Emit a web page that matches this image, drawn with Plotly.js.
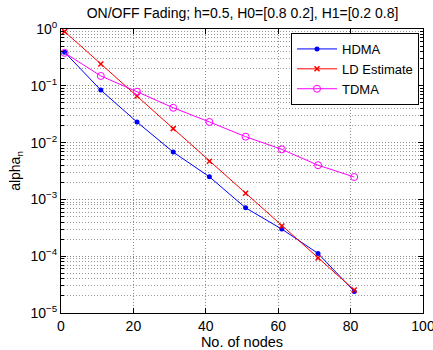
<!DOCTYPE html>
<html>
<head>
<meta charset="utf-8">
<script src="https://cdn.plot.ly/plotly-3.0.1.min.js"></script>
<style>html,body{margin:0;padding:0;background:#fff;}#chart{width:433px;height:350px;}</style>
</head>
<body>
<div id="chart"></div>
<script>
const nodes = [1, 11, 21, 31, 41, 51, 61, 71, 81];
const hdma = [0.39, 0.084, 0.023, 0.0068, 0.0025, 0.00071, 0.00030, 0.000112, 0.000024];
const ldEstimate = [0.9, 0.242, 0.066, 0.0176, 0.0047, 0.00128, 0.00034, 0.000093, 0.0000254];
const tdma = [0.38, 0.149, 0.0787, 0.041, 0.0231, 0.0127, 0.0076, 0.0040, 0.00248];
const yTickVals = [1e-5, 1e-4, 1e-3, 1e-2, 1e-1, 1];
const yTickText = ['10<sup>−5</sup>', '10<sup>−4</sup>', '10<sup>−3</sup>', '10<sup>−2</sup>', '10<sup>−1</sup>', '10<sup>0</sup>'];
const xTickVals = [0, 20, 40, 60, 80, 100];

const font = 'Liberation Sans, Arial, sans-serif';
const traces = [
  {x: nodes, y: hdma, name: 'HDMA', mode: 'lines+markers',
   line: {color: '#0000ff', width: 1}, marker: {color: '#0000ff', symbol: 'circle', size: 5}},
  {x: nodes, y: ldEstimate, name: 'LD Estimate', mode: 'lines+markers',
   line: {color: '#ff0000', width: 1}, marker: {color: '#ff0000', symbol: 'x-thin', size: 5, line: {color: '#ff0000', width: 1.5}}},
  {x: nodes, y: tdma, name: 'TDMA', mode: 'lines+markers',
   line: {color: '#ff00ff', width: 1}, marker: {color: '#ff00ff', symbol: 'circle-open', size: 7, line: {color: '#ff00ff', width: 1}}}
];
const gridDash = '1px,2px';
const layout = {
  width: 433, height: 350,
  margin: {l: 61, r: 10, t: 29, b: 37},
  paper_bgcolor: '#fff', plot_bgcolor: '#fff',
  font: {family: font, size: 13, color: '#000'},
  title: {text: 'ON/OFF Fading; h=0.5, H0=[0.8 0.2], H1=[0.2 0.8]', font: {family: font, size: 14}, x: 0.56, xanchor: 'center', y: 0.962, yanchor: 'middle'},
  xaxis: {
    range: [0, 100], tickvals: xTickVals, tickmode: 'array', ticklabeloverflow: 'allow',
    showline: true, linecolor: '#000', linewidth: 1, mirror: 'ticks',
    ticks: 'inside', ticklen: 5, tickcolor: '#000',
    showgrid: true, gridcolor: '#888', griddash: gridDash, gridwidth: 1, zeroline: false,
    tickfont: {size: 14},
    title: {text: 'No. of nodes', font: {size: 14.5}, standoff: 1}
  },
  yaxis: {
    type: 'log', range: [-5, 0], tickmode: 'array', tickvals: yTickVals, ticktext: yTickText,
    showline: true, linecolor: '#000', linewidth: 1, mirror: 'ticks',
    ticks: 'inside', ticklen: 5, tickcolor: '#000',
    showgrid: true, gridcolor: '#888', griddash: gridDash, gridwidth: 1, zeroline: false,
    tickfont: {size: 14},
    minor: {dtick: 'D1', showgrid: true, gridcolor: '#999', griddash: gridDash, gridwidth: 1, ticks: 'inside', ticklen: 3, tickcolor: '#000'},
    title: {text: 'alpha<sub>n</sub>', font: {size: 14}, standoff: 6}
  },
  legend: {x: 0.989, xanchor: 'right', y: 0.986, yanchor: 'top', bgcolor: '#fff', bordercolor: '#000', borderwidth: 1,
    font: {size: 13}, tracegroupgap: 0, itemwidth: 40},
  showlegend: true
};
Plotly.newPlot('chart', traces, layout, {staticPlot: true, displayModeBar: false});
</script>
</body>
</html>
